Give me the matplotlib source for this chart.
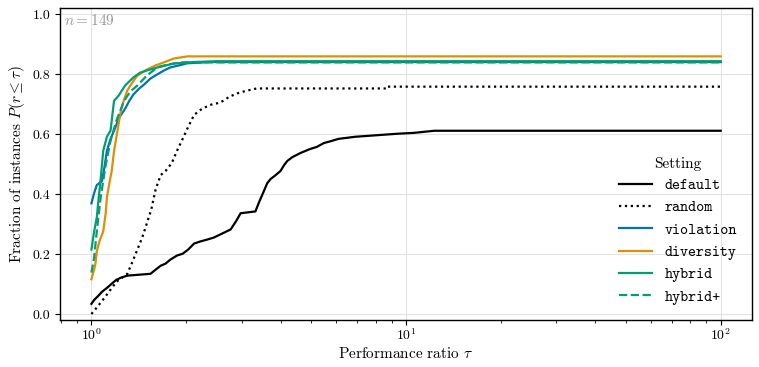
import numpy as np
import matplotlib
matplotlib.use('Agg')
import matplotlib.pyplot as plt
from matplotlib.font_manager import FontProperties

plt.rcParams['font.family'] = 'serif'
plt.rcParams['font.serif'] = ['cmr10']
plt.rcParams['mathtext.fontset'] = 'cm'
plt.rcParams['axes.formatter.use_mathtext'] = True

n_instances = 149

# performance profiles: tau breakpoints and fraction of instances
default_tau = [1.00, 1.02, 1.05, 1.08, 1.12, 1.16, 1.20, 1.24, 1.30, 1.54, 1.60, 1.66, 1.72,
               1.78, 1.87, 1.95, 2.03, 2.12, 2.22, 2.33, 2.45, 2.60, 2.77, 2.88, 2.98, 3.32,
               3.42, 3.53, 3.62, 3.71, 3.85, 3.99, 4.10, 4.19, 4.35, 4.62, 4.95, 5.20, 5.48,
               5.80, 6.10, 6.90, 9.38, 10.6, 12.3]
default_p = [0.034, 0.047, 0.060, 0.074, 0.087, 0.101, 0.114, 0.121, 0.128, 0.134, 0.148, 0.161,
             0.168, 0.181, 0.195, 0.201, 0.215, 0.235, 0.242, 0.248, 0.255, 0.268, 0.282, 0.309,
             0.336, 0.342, 0.376, 0.409, 0.436, 0.450, 0.463, 0.477, 0.497, 0.510, 0.523, 0.537,
             0.550, 0.557, 0.570, 0.577, 0.584, 0.591, 0.601, 0.604, 0.611]

random_tau = [1.00, 1.05, 1.10, 1.15, 1.20, 1.25, 1.30, 1.35, 1.40, 1.45, 1.50, 1.55, 1.60,
              1.66, 1.72, 1.80, 1.87, 1.95, 2.03, 2.12, 2.25, 2.40, 2.57, 2.75, 2.95, 3.13,
              3.35, 8.70, 8.72]
random_p = [0.000, 0.027, 0.054, 0.081, 0.107, 0.121, 0.134, 0.174, 0.215, 0.255, 0.302, 0.349,
            0.416, 0.463, 0.477, 0.503, 0.544, 0.584, 0.624, 0.664, 0.685, 0.698, 0.705, 0.725,
            0.738, 0.745, 0.752, 0.752, 0.758]

violation_tau = [1.00, 1.02, 1.04, 1.08, 1.10, 1.12, 1.15, 1.18, 1.22, 1.28, 1.32, 1.36, 1.42,
                 1.47, 1.54, 1.62, 1.70, 1.78, 1.90, 2.02, 2.40]
violation_p = [0.369, 0.403, 0.430, 0.443, 0.490, 0.544, 0.584, 0.611, 0.651, 0.685, 0.711,
               0.732, 0.752, 0.765, 0.785, 0.799, 0.812, 0.822, 0.829, 0.836, 0.840]

diversity_tau = [1.00, 1.02, 1.03, 1.04, 1.06, 1.09, 1.11, 1.12, 1.14, 1.16, 1.18, 1.21, 1.24,
                 1.27, 1.30, 1.35, 1.40, 1.45, 1.50, 1.60, 1.70, 1.83, 2.02]
diversity_p = [0.116, 0.148, 0.168, 0.208, 0.242, 0.275, 0.336, 0.389, 0.436, 0.477, 0.544,
               0.611, 0.678, 0.715, 0.745, 0.772, 0.795, 0.805, 0.815, 0.829, 0.839, 0.852, 0.859]

hybrid_tau = [1.00, 1.02, 1.04, 1.055, 1.07, 1.09, 1.12, 1.15, 1.18, 1.22, 1.28, 1.36, 1.43,
              1.50, 1.66, 1.83, 2.10, 2.50]
hybrid_p = [0.215, 0.275, 0.322, 0.389, 0.450, 0.544, 0.591, 0.611, 0.711, 0.728, 0.762, 0.789,
            0.805, 0.812, 0.825, 0.835, 0.840, 0.843]

hybridp_tau = [1.00, 1.02, 1.04, 1.07, 1.11, 1.15, 1.20, 1.27, 1.33, 1.40, 1.50, 1.62, 1.75, 1.92]
hybridp_p = [0.138, 0.188, 0.275, 0.389, 0.497, 0.577, 0.644, 0.711, 0.742, 0.762, 0.795, 0.822,
             0.832, 0.839]

tau_max = 100

series = [
    ('default', default_tau, default_p, 'black', '-'),
    ('random', random_tau, random_p, 'black', ':'),
    ('violation', violation_tau, violation_p, '#0173b2', '-'),
    ('diversity', diversity_tau, diversity_p, '#de8f05', '-'),
    ('hybrid', hybrid_tau, hybrid_p, '#029e73', '-'),
    ('hybrid+', hybridp_tau, hybridp_p, '#029e73', '--'),
]

fig = plt.figure(figsize=(7.59, 3.67), dpi=100)
ax = fig.add_axes([0.079, 0.128, 0.912, 0.85])

for name, t, p, c, ls in series:
    t = list(t) + [tau_max]
    p = list(p) + [p[-1]]
    ax.plot(t, p, color=c, linestyle=ls, lw=1.6, label=name)

ax.set_xscale('log')
ax.set_ylim(-0.02, 1.02)
ax.set_yticks([0.0, 0.2, 0.4, 0.6, 0.8, 1.0])
ax.set_yticklabels(['0.0', '0.2', '0.4', '0.6', '0.8', '1.0'])
ax.grid(True, which='major', color='#e3e3e3', lw=0.8)
ax.set_axisbelow(True)
ax.tick_params(axis='both', labelsize=10)
ax.tick_params(axis='x', pad=2)
ax.set_xlabel(r'Performance ratio $\tau$', fontsize=11, labelpad=2)
ax.set_ylabel(r'Fraction of instances $P(r \leq \tau)$', fontsize=11)
for s in ax.spines.values():
    s.set_linewidth(1.0)

ax.text(0.006, 0.985, r'$n = %d$' % n_instances, transform=ax.transAxes,
        ha='left', va='top', color='#999999', fontsize=11)

leg = ax.legend(loc='lower right', title='Setting', prop=FontProperties(family='cmtt10', size=11),
                frameon=False, handlelength=2.2, borderaxespad=0.6)
leg.get_title().set_fontsize(11)

fig.savefig('out.png', dpi=100)
